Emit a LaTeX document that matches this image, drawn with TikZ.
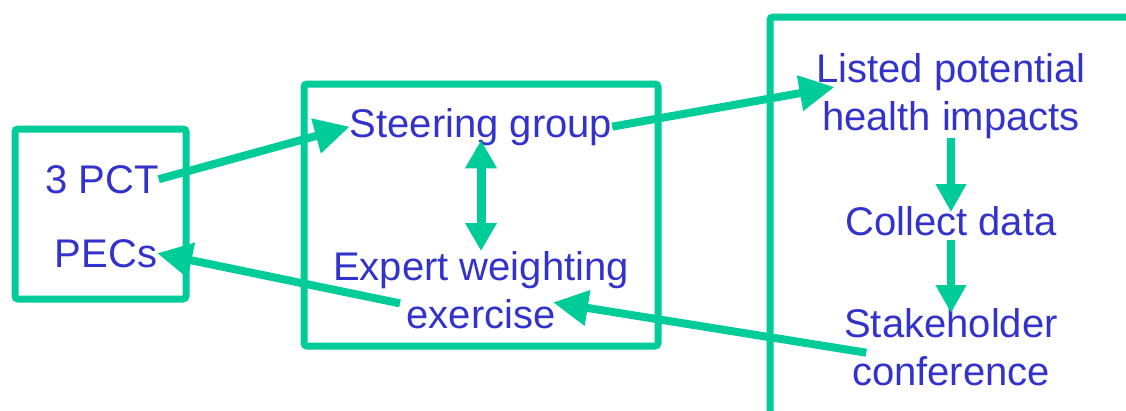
\documentclass[tikz,border=0pt]{standalone}
\usepackage{fontspec}
\setmainfont{Liberation Sans}
\usetikzlibrary{arrows.meta,calc}
\definecolor{frame}{RGB}{0,204,153}
\definecolor{ink}{RGB}{51,51,204}
\tikzset{
  lbl/.style={text=ink, inner sep=0pt, outer sep=0pt, align=center,
    font=\fontsize{40}{48}\selectfont, anchor=base},
  framebox/.style={draw=frame, line width=7pt, rounded corners=3pt},
  bigarrow/.style={draw=frame, line width=8pt, -{Triangle[length=35pt,width=34pt]}},
  smallarrow/.style={draw=frame, line width=8pt, -{Triangle[length=28pt,width=29pt]}},
  twoway/.style={draw=frame, line width=9pt,
    {Triangle[length=28pt,width=30pt]}-{Triangle[length=28pt,width=30pt]}},
}
\begin{document}
\begin{tikzpicture}[x=1pt,y=-1pt]
\useasboundingbox (0,0) rectangle (1126,410);
\begin{scope}
  \clip (0,0) rectangle (1126,410);
  % three frames
  \draw[framebox] (15,129) rectangle (186,299);
  \draw[framebox] (304,84) rectangle (658,346);
  \draw[framebox] (770,17) rectangle (1150,440);

  % texts (multi-line nodes sit on the baseline of their last line)
  \node[lbl] (pct)    at (102,193) {3 PCT};
  \node[lbl] (pecs)   at (106,267) {PECs};
  \node[lbl] (steer)  at (481,137) {Steering group};
  \node[lbl] (expert) at (481,328) {Expert weighting\\exercise};
  \node[lbl] (listed) at (951,130) {Listed potential\\health impacts};
  \node[lbl] (collect) at (951,235) {Collect data};
  \node[lbl] (stake)  at (951,385) {Stakeholder\\conference};

  % connectors
  \coordinate (listedin) at ($(listed.north west)+(18,34)$);
  \coordinate (stakeout) at ($(stake.west)+(22,6)$);
  \coordinate (exin) at ($(expert.south)+(72,-26)$);
  \coordinate (exout) at ($(expert.south)+(-81,-25)$);

  \draw[bigarrow] (pct.east) -- (steer.west);
  \draw[bigarrow] (steer.east) -- (listedin);
  \draw[twoway, shorten <=-5pt] (steer.south) -- (expert.north);
  \draw[smallarrow, shorten >=-6pt] (listed.south) -- (collect.north);
  \draw[smallarrow, shorten >=-5pt] ([yshift=-5pt]collect.south) -- (stake.north);
  \draw[bigarrow] (stakeout) -- (exin);
  \draw[bigarrow] (exout) -- (pecs.east);
\end{scope}
\end{tikzpicture}
\end{document}
